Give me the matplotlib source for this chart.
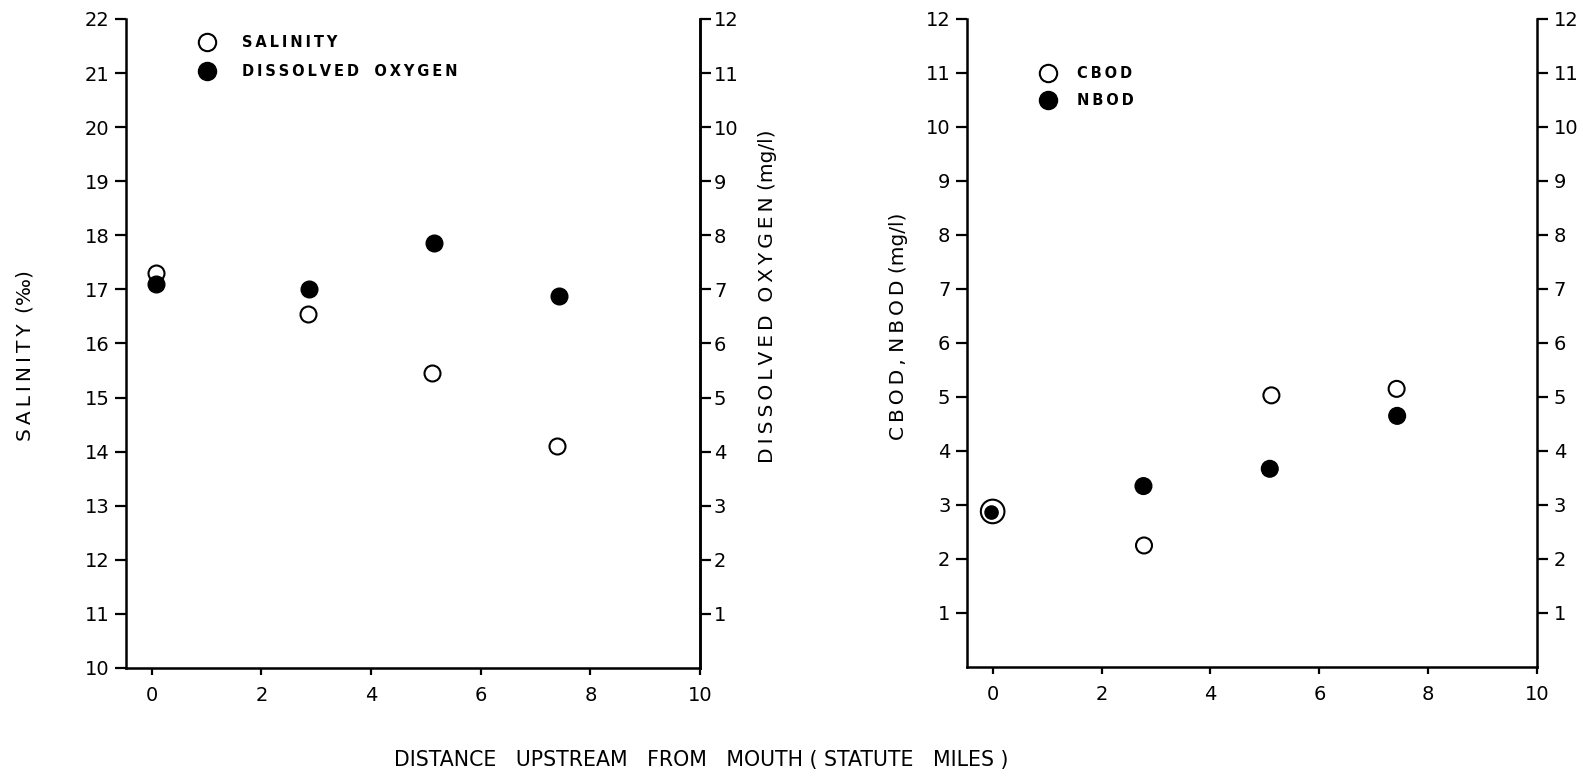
import matplotlib
matplotlib.use('Agg')
import matplotlib.pyplot as plt
from matplotlib.lines import Line2D

# Left panel: salinity (left axis) and dissolved oxygen (right axis)
sal_x = [0.08, 2.85, 5.12, 7.40]
sal_y = [17.3, 16.55, 15.45, 14.1]
do_x = [0.08, 2.87, 5.14, 7.42]
do_y = [7.1, 7.0, 7.85, 6.88]

# Right panel: CBOD and NBOD
cbod_x = [0.0, 2.78, 5.12, 7.42]
cbod_y = [2.88, 2.25, 5.03, 5.15]
nbod_x = [-0.02, 2.77, 5.09, 7.43]
nbod_y = [2.86, 3.35, 3.67, 4.65]

x_ticks = [0, 2, 4, 6, 8, 10]
sal_ticks = list(range(10, 23))
mg_ticks = list(range(1, 13))

plt.rcParams['font.family'] = 'DejaVu Sans'
fig = plt.figure(figsize=(15.83, 7.77), dpi=100)

THIN = '\u2009'


def spaced(s):
    return THIN.join(s)


def style_axis(ax):
    ax.spines['top'].set_visible(False)
    for sp in ax.spines.values():
        sp.set_linewidth(1.8)
    ax.tick_params(axis='y', length=8, width=1.6, labelsize=14, pad=4)
    ax.tick_params(axis='x', length=5, width=1.6, labelsize=14, pad=8)
    ax.set_xlim(-0.47, 10)
    ax.set_xticks(x_ticks)


# ---- left panel
ax1 = fig.add_axes([0.0796, 0.1403, 0.3626, 0.8353])
style_axis(ax1)
ax1.set_ylim(10, 22)
ax1.set_yticks(sal_ticks)
ax1.plot(sal_x, sal_y, 'o', ms=11.5, mfc='white', mec='black', mew=1.5, ls='none')

ax1b = ax1.twinx()
ax1b.spines['top'].set_visible(False)
ax1b.spines['left'].set_visible(False)
ax1b.spines['right'].set_linewidth(1.8)
ax1b.set_ylim(0, 12)
ax1b.set_yticks(mg_ticks)
ax1b.tick_params(axis='y', length=8, width=1.6, labelsize=14, pad=2)
ax1b.plot(do_x, do_y, 'o', ms=12, color='black', ls='none')

ax1.set_ylabel(spaced('SALINITY') + THIN + ' (‰)', fontsize=14.5, va='center')
ax1.yaxis.set_label_coords(-0.176, 0.482)
ax1b.set_ylabel(spaced('DISSOLVED') + '  ' + spaced('OXYGEN') + ' (mg/l)', fontsize=14.5, va='center')
ax1b.yaxis.set_label_coords(1.117, 0.573)

h_open = Line2D([], [], marker='o', ms=12.5, mfc='white', mec='black', mew=1.5, ls='none')
h_fill = Line2D([], [], marker='o', ms=13, color='black', ls='none')
ax1.legend([h_open, h_fill], [spaced('SALINITY'), spaced('DISSOLVED') + '   ' + spaced('OXYGEN')],
           loc='upper left', bbox_to_anchor=(0.128, 0.975), frameon=False,
           prop={'size': 10.5, 'weight': 'bold'}, handlelength=1.0, handletextpad=1.9,
           labelspacing=0.95, borderpad=0, borderaxespad=0)

# ---- right panel
ax2 = fig.add_axes([0.6109, 0.1416, 0.3601, 0.834])
style_axis(ax2)
ax2.set_ylim(0, 12)
ax2.set_yticks(mg_ticks)
ax2.tick_params(axis='y', left=True, right=True, labelleft=True, labelright=True)
ax2.spines['right'].set_visible(True)
cbod_sizes = [17, 11.5, 11.5, 11.5]
nbod_sizes = [9.5, 12, 12, 12]
ax2.scatter(cbod_x, cbod_y, s=[v ** 2 for v in cbod_sizes], facecolors='white',
            edgecolors='black', linewidths=1.5, zorder=3)
ax2.scatter(nbod_x, nbod_y, s=[v ** 2 for v in nbod_sizes], color='black', zorder=4)
ax2.set_ylabel(spaced('CBOD,') + ' ' + spaced('NBOD') + ' (mg/l)', fontsize=14.5, va='center')
ax2.yaxis.set_label_coords(-0.121, 0.526)

h_open2 = Line2D([], [], marker='o', ms=12.5, mfc='white', mec='black', mew=1.5, ls='none')
h_fill2 = Line2D([], [], marker='o', ms=13, color='black', ls='none')
ax2.legend([h_open2, h_fill2], [spaced('CBOD'), spaced('NBOD')],
           loc='upper left', bbox_to_anchor=(0.129, 0.927), frameon=False,
           prop={'size': 10.5, 'weight': 'bold'}, handlelength=1.0, handletextpad=1.5,
           labelspacing=0.8, borderpad=0, borderaxespad=0)

fig.text(0.443, 0.022, 'DISTANCE   UPSTREAM   FROM   MOUTH ( STATUTE   MILES )',
         fontsize=14.8, ha='center', va='center')

fig.savefig('out.png', dpi=100)
